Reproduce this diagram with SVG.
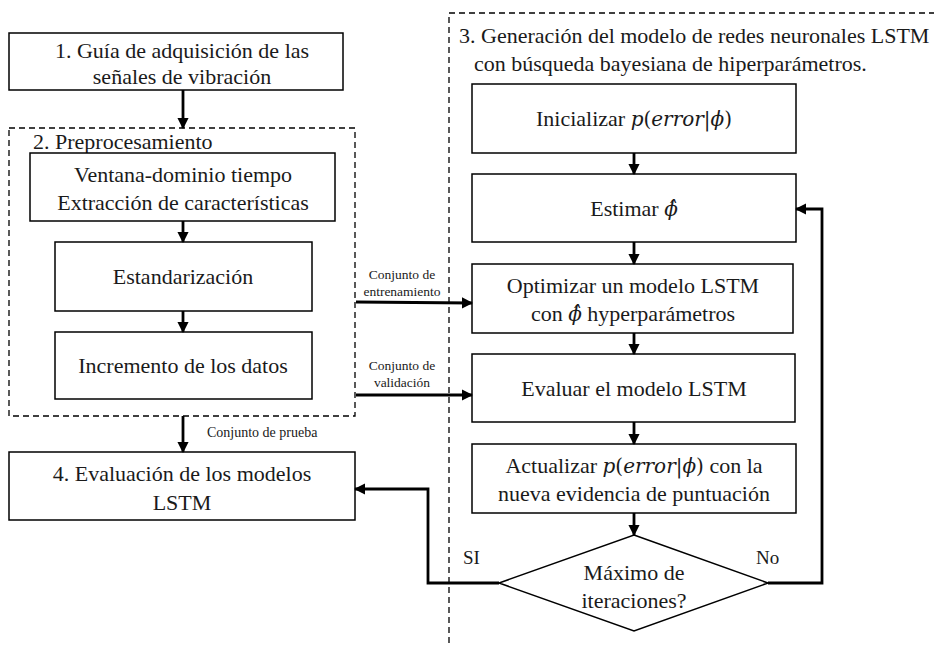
<svg xmlns="http://www.w3.org/2000/svg" width="934" height="646" viewBox="0 0 934 646">
  <defs>
    <marker id="arrow" viewBox="0 0 10 10" refX="9" refY="5" markerWidth="4" markerHeight="4" markerUnits="strokeWidth" orient="auto">
      <path d="M0,0 L10,5 L0,10 z" fill="#000"/>
    </marker>
    <style>
      .box { fill: #fff; stroke: #000; stroke-width: 1.5; }
      .group { fill: none; stroke: #000; stroke-width: 1.3; stroke-dasharray: 6 4; }
      text { font-family: 'Liberation Serif', serif; fill: #1a1a1a; }
      .t { font-size: 22px; text-anchor: middle; }
      .tl { font-size: 22px; }
      .s { font-size: 13.5px; text-anchor: middle; }
      .sl { font-size: 14px; }
      .yn { font-size: 19px; }
      .m { font-family: 'DejaVu Serif', serif; font-size: 20px; }
      .i { font-style: italic; }
      .ca { fill: none; stroke: #000; stroke-width: 2.8; marker-end: url(#arrow); }
    </style>
  </defs>

  <!-- dashed group frames -->
  <g id="group-preproc">
    <rect class="group" x="9" y="128" width="346" height="288"/>
    <text class="tl" x="33" y="149">2. Preprocesamiento</text>
  </g>
  <g id="group-lstm">
    <rect class="group" x="449" y="13" width="520" height="660"/>
    <text class="tl" x="459" y="43">3. Generación del modelo de redes neuronales LSTM</text>
    <text class="tl" x="474" y="71">con búsqueda bayesiana de hiperparámetros.</text>
  </g>

  <!-- left column -->
  <g id="n1">
    <rect class="box" x="9" y="33" width="334" height="57"/>
    <text class="t" x="182" y="58">1. Guía de adquisición de las</text>
    <text class="t" x="182" y="84">señales de vibración</text>
  </g>
  <g id="n-ventana">
    <rect class="box" x="30" y="153" width="305" height="68"/>
    <text class="t" x="183" y="182">Ventana-dominio tiempo</text>
    <text class="t" x="183" y="210">Extracción de características</text>
  </g>
  <g id="n-estand">
    <rect class="box" x="55" y="242" width="257" height="69"/>
    <text class="t" x="183" y="284">Estandarización</text>
  </g>
  <g id="n-incr">
    <rect class="box" x="55" y="332" width="257" height="67"/>
    <text class="t" x="183" y="373">Incremento de los datos</text>
  </g>
  <g id="n4">
    <rect class="box" x="9" y="452" width="346" height="68"/>
    <text class="t" x="182" y="481">4. Evaluación de los modelos</text>
    <text class="t" x="182" y="510">LSTM</text>
  </g>

  <!-- right column -->
  <g id="n-init">
    <rect class="box" x="472" y="84" width="324" height="69"/>
    <text class="t" x="634" y="126">Inicializar <tspan class="m"><tspan class="i">p</tspan>(<tspan class="i">error</tspan>|<tspan class="i">ϕ</tspan>)</tspan></text>
  </g>
  <g id="n-estimar">
    <rect class="box" x="472" y="174" width="324" height="68"/>
    <text class="t" x="634" y="216">Estimar <tspan class="m i">ϕ̂</tspan></text>
  </g>
  <g id="n-optim">
    <rect class="box" x="472" y="264" width="321" height="69"/>
    <text class="t" x="633" y="293">Optimizar un modelo LSTM</text>
    <text class="t" x="633" y="321">con <tspan class="m i">ϕ̂</tspan> hyperparámetros</text>
  </g>
  <g id="n-eval">
    <rect class="box" x="472" y="354" width="323" height="68"/>
    <text class="t" x="634" y="396">Evaluar el modelo LSTM</text>
  </g>
  <g id="n-update">
    <rect class="box" x="472" y="444" width="324" height="69"/>
    <text class="t" x="634" y="473">Actualizar <tspan class="m"><tspan class="i">p</tspan>(<tspan class="i">error</tspan>|<tspan class="i">ϕ</tspan>)</tspan> con la</text>
    <text class="t" x="634" y="501">nueva evidencia de puntuación</text>
  </g>
  <g id="n-max">
    <polygon class="box" points="634,535 768,583 634,631 499,583"/>
    <text class="t" x="634" y="580">Máximo de</text>
    <text class="t" x="634" y="608">iteraciones?</text>
  </g>

  <!-- connectors and their labels -->
  <g id="connectors">
    <line class="ca" x1="183" y1="90" x2="183" y2="128"/>
    <line class="ca" x1="183" y1="221" x2="183" y2="242"/>
    <line class="ca" x1="183" y1="311" x2="183" y2="332"/>
    <line class="ca" x1="183" y1="416" x2="183" y2="452"/>
    <line class="ca" x1="634" y1="153" x2="634" y2="174"/>
    <line class="ca" x1="634" y1="242" x2="634" y2="264"/>
    <line class="ca" x1="634" y1="333" x2="634" y2="354"/>
    <line class="ca" x1="634" y1="422" x2="634" y2="444"/>
    <line class="ca" x1="634" y1="513" x2="634" y2="535"/>
    <line class="ca" x1="356" y1="302" x2="472" y2="303"/>
    <line class="ca" x1="356" y1="395" x2="472" y2="395"/>
    <polyline class="ca" points="768,583 822,583 822,209 796,209"/>
    <polyline class="ca" points="499,583 428,583 428,489 355,489"/>
    <text class="s" x="402" y="279">Conjunto de</text>
    <text class="s" x="402" y="296">entrenamiento</text>
    <text class="s" x="402" y="370">Conjunto de</text>
    <text class="s" x="402" y="387">validación</text>
    <text class="sl" x="207" y="437">Conjunto de prueba</text>
    <text class="yn" x="463" y="564">SI</text>
    <text class="yn" x="756" y="564">No</text>
  </g>
</svg>
